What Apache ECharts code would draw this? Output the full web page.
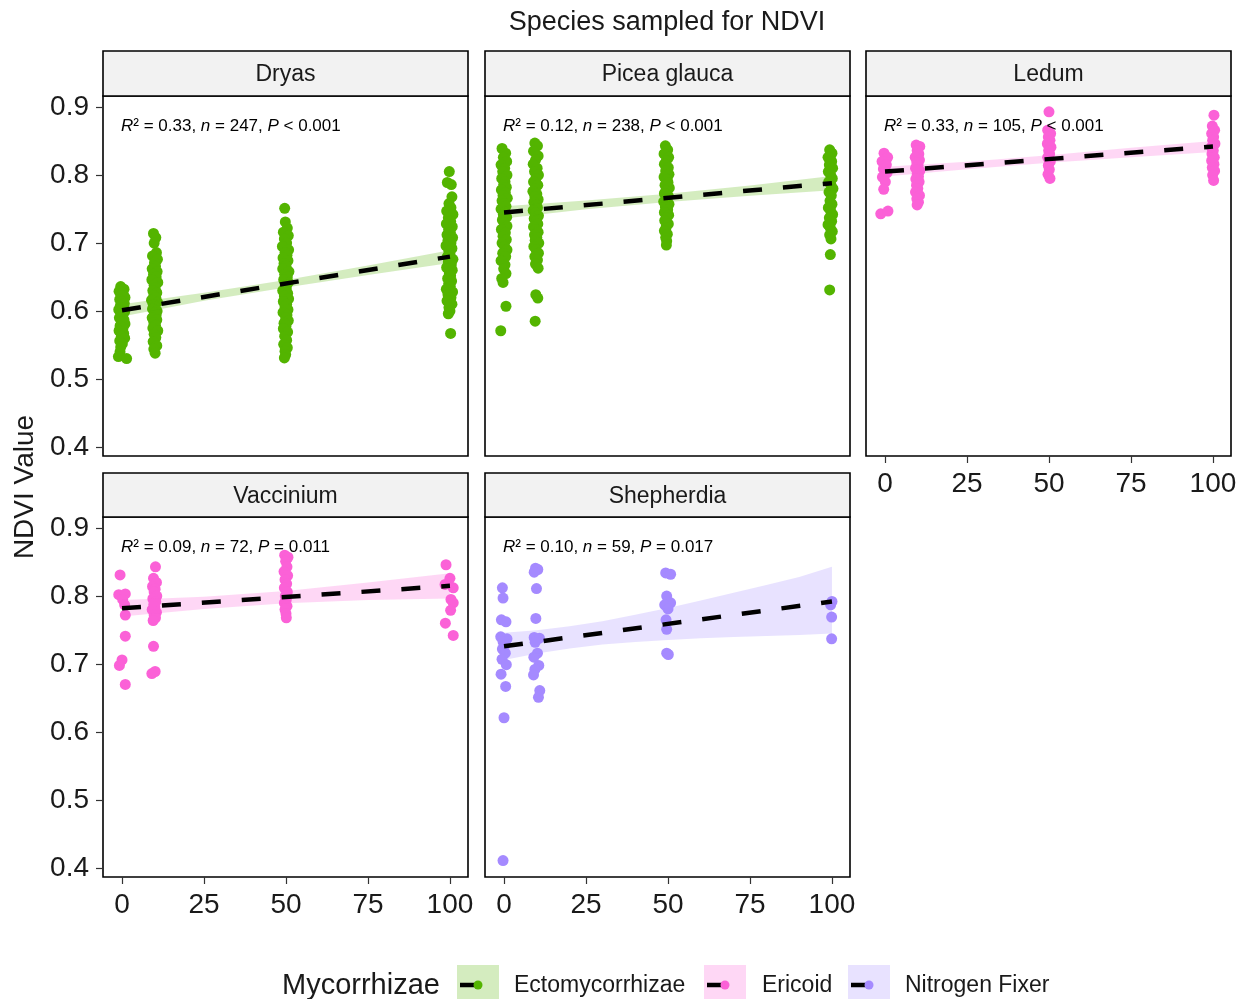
<!DOCTYPE html>
<html>
<head>
<meta charset="utf-8">
<script src="https://cdn.jsdelivr.net/npm/echarts@6/dist/echarts.min.js"></script>
<style>
  html, body { margin: 0; padding: 0; background: #fff; }
  #chart { width: 1240px; height: 999px; }
</style>
</head>
<body>
<div id="chart"></div>
<script>
// ---- Data: NDVI by treatment (%) for each sampled species ----
const treatmentTicks = [0, 25, 50, 75, 100];
const ndviTicks = [0.4, 0.5, 0.6, 0.7, 0.8, 0.9];

const mycorrhizaeTypes = ['Ectomycorrhizae', 'Ericoid', 'Nitrogen Fixer'];

// Jittered observations [treatment, NDVI]
const dryasPts = [
  [-0.4,0.636],[0.6,0.632],[-0.9,0.629],[0.3,0.626],[-0.2,0.623],[0.9,0.62],[-0.7,0.617],[0.1,0.614],[0.7,0.611],[-0.5,0.608],
  [0.4,0.605],[-1.0,0.602],[0.8,0.599],[-0.3,0.596],[0.2,0.593],[-0.8,0.59],[0.6,0.587],[-0.1,0.584],[0.9,0.581],[-0.6,0.578],
  [0.3,0.575],[-0.9,0.571],[0.5,0.567],[-0.2,0.563],[0.8,0.56],[-0.7,0.556],[0.1,0.552],[-0.4,0.547],[-0.6,0.540],[-1.1,0.533],
  [1.4,0.530],
  [9.6,0.714],[10.3,0.708],[9.8,0.700],[10.5,0.686],[9.3,0.681],[10.8,0.676],[9.9,0.671],[10.2,0.666],[9.2,0.662],[10.7,0.658],
  [9.6,0.654],[10.4,0.65],[9.1,0.646],[10.9,0.642],[9.8,0.638],[10.1,0.634],[9.4,0.63],[10.6,0.627],[9.7,0.623],[10.3,0.62],
  [9.0,0.616],[10.8,0.613],[9.5,0.61],[10.0,0.606],[9.3,0.603],[10.7,0.6],[9.9,0.597],[10.4,0.594],[9.2,0.59],[10.6,0.587],
  [9.7,0.583],[10.2,0.579],[9.4,0.575],[10.9,0.571],[9.8,0.566],[10.3,0.561],[9.5,0.555],[10.6,0.549],[9.7,0.544],[10.1,0.538],
  [49.6,0.751],[49.8,0.731],[50.4,0.722],[49.2,0.716],[50.7,0.711],[49.5,0.706],[50.2,0.70],[48.9,0.695],[50.8,0.69],[49.7,0.686],
  [50.3,0.682],[49.1,0.678],[50.6,0.674],[49.4,0.67],[50.0,0.666],[49.0,0.662],[50.9,0.658],[49.6,0.654],[50.4,0.65],[49.3,0.646],
  [50.7,0.642],[49.8,0.638],[50.1,0.634],[49.0,0.63],[50.5,0.626],[49.5,0.622],[50.8,0.618],[49.2,0.614],[50.2,0.61],[49.7,0.606],
  [50.6,0.602],[49.1,0.598],[50.3,0.594],[49.9,0.59],[50.7,0.586],[49.4,0.582],[50.0,0.578],[49.2,0.574],[50.5,0.569],[49.6,0.563],
  [50.2,0.557],[49.3,0.551],[50.4,0.546],[49.7,0.541],[49.9,0.536],[49.5,0.531],
  [99.8,0.805],[99.2,0.789],[100.4,0.786],[100.6,0.768],[99.7,0.758],[100.3,0.752],[99.0,0.747],[100.9,0.742],[99.5,0.737],[100.2,0.732],
  [98.9,0.728],[100.7,0.724],[99.6,0.72],[100.1,0.716],[99.1,0.712],[100.8,0.708],[99.4,0.704],[100.3,0.70],[98.8,0.696],[100.6,0.692],
  [99.7,0.688],[100.0,0.684],[99.2,0.68],[100.9,0.676],[99.5,0.672],[100.4,0.668],[99.0,0.664],[100.7,0.66],[99.8,0.656],[100.2,0.652],
  [99.3,0.648],[100.5,0.644],[99.6,0.64],[100.1,0.636],[98.9,0.632],[100.8,0.628],[99.4,0.624],[100.3,0.62],[99.1,0.615],[100.6,0.61],
  [99.7,0.605],[100.0,0.6],[99.5,0.596],[100.2,0.567]
];
const piceaPts = [
  [-0.6,0.839],[0.5,0.832],[-0.2,0.826],[0.8,0.82],[-0.9,0.815],[0.2,0.81],[-0.4,0.805],[0.9,0.80],[-0.7,0.795],[0.3,0.79],
  [-0.1,0.786],[0.7,0.782],[-0.8,0.778],[0.4,0.774],[-0.3,0.77],[1.0,0.766],[-0.6,0.762],[0.1,0.758],[0.6,0.754],[-0.9,0.75],
  [0.3,0.746],[-0.2,0.742],[0.8,0.738],[-0.5,0.734],[0.0,0.73],[0.9,0.725],[-0.8,0.72],[0.4,0.715],[-0.3,0.71],[0.7,0.705],
  [-0.6,0.70],[0.2,0.695],[0.9,0.69],[-0.4,0.685],[0.5,0.68],[-0.9,0.674],[0.3,0.668],[-0.1,0.662],[0.6,0.655],[-0.7,0.648],
  [-0.3,0.642],[0.6,0.607],[-1.0,0.571],
  [9.4,0.847],[10.2,0.843],[9.0,0.835],[10.4,0.828],[9.6,0.822],[8.9,0.816],[10.1,0.81],[9.3,0.805],[10.5,0.80],[9.7,0.795],
  [9.0,0.79],[10.3,0.785],[9.5,0.78],[8.8,0.776],[10.0,0.772],[9.4,0.768],[10.4,0.764],[9.1,0.76],[9.8,0.756],[10.2,0.752],
  [8.9,0.748],[9.6,0.744],[10.5,0.74],[9.2,0.736],[9.9,0.732],[10.3,0.728],[9.0,0.724],[9.7,0.72],[10.4,0.716],[9.3,0.712],
  [10.0,0.708],[9.5,0.704],[10.6,0.70],[9.1,0.695],[9.8,0.69],[10.5,0.685],[9.4,0.68],[10.2,0.675],[9.6,0.669],[10.4,0.663],
  [9.7,0.624],[10.3,0.619],[9.5,0.585],
  [49.2,0.843],[49.9,0.837],[48.8,0.831],[50.2,0.826],[49.5,0.821],[48.9,0.816],[50.1,0.811],[49.3,0.806],[50.3,0.801],[48.8,0.797],
  [49.7,0.793],[50.0,0.789],[49.1,0.785],[50.4,0.781],[49.4,0.777],[48.9,0.773],[50.1,0.769],[49.6,0.765],[48.7,0.761],[50.3,0.757],
  [49.2,0.753],[49.9,0.749],[48.9,0.745],[50.2,0.741],[49.5,0.737],[49.0,0.733],[50.1,0.728],[49.4,0.723],[48.9,0.718],[49.8,0.713],
  [49.3,0.708],[49.6,0.703],[49.5,0.697],
  [99.3,0.837],[100.0,0.832],[98.8,0.826],[99.9,0.82],[99.2,0.815],[100.2,0.81],[98.9,0.805],[99.6,0.80],[100.1,0.795],[99.0,0.79],
  [99.7,0.785],[100.3,0.78],[99.1,0.775],[99.8,0.77],[99.4,0.762],[100.0,0.757],[98.9,0.752],[99.6,0.747],[100.2,0.742],[99.2,0.737],
  [99.9,0.732],[98.8,0.727],[99.5,0.722],[100.1,0.717],[99.3,0.712],[99.7,0.706],[99.5,0.683],[99.3,0.631]
];
const ledumPts = [
  [-0.3,0.832],[0.8,0.826],[-0.9,0.82],[0.4,0.815],[-0.5,0.809],[0.6,0.803],[-0.8,0.797],[0.1,0.79],[-0.4,0.779],[-1.3,0.743],
  [0.9,0.747],
  [9.5,0.844],[10.6,0.842],[9.8,0.836],[10.3,0.831],[9.2,0.826],[10.5,0.822],[9.7,0.818],[10.1,0.814],[9.3,0.81],[10.6,0.806],
  [9.8,0.802],[10.2,0.798],[9.4,0.794],[10.4,0.79],[9.6,0.785],[10.0,0.78],[9.3,0.775],[10.5,0.77],[9.7,0.765],[10.2,0.76],
  [9.8,0.756],
  [50.0,0.893],[49.6,0.866],[50.5,0.861],[49.8,0.856],[50.3,0.851],[49.5,0.846],[50.6,0.841],[49.9,0.836],[50.2,0.831],[49.6,0.826],
  [50.4,0.82],[49.8,0.814],[50.1,0.808],[49.7,0.801],[50.3,0.795],
  [100.3,0.888],[99.8,0.872],[100.5,0.866],[99.6,0.861],[100.2,0.856],[99.9,0.851],[100.6,0.846],[99.5,0.841],[100.1,0.836],[99.7,0.831],
  [100.4,0.826],[99.6,0.821],[100.3,0.816],[99.8,0.811],[100.5,0.806],[99.9,0.80],[100.2,0.792]
];
const vacciniumPts = [
  [-0.6,0.831],[-1.0,0.802],[1.0,0.803],[0.2,0.795],[0.8,0.787],[1.0,0.772],[1.0,0.741],[0.0,0.706],[-0.8,0.698],[1.0,0.670],
  [10.2,0.843],[9.6,0.826],[10.5,0.82],[9.3,0.814],[10.1,0.81],[9.8,0.806],[10.6,0.80],[9.4,0.796],[10.3,0.792],[9.7,0.788],
  [10.0,0.784],[9.2,0.78],[10.5,0.776],[9.8,0.772],[10.2,0.768],[9.5,0.764],[9.6,0.726],[9.1,0.686],[10.1,0.689],
  [49.6,0.860],[50.6,0.857],[49.9,0.851],[50.3,0.843],[49.4,0.836],[50.5,0.83],[49.7,0.824],[50.2,0.818],[49.5,0.812],[50.4,0.806],
  [49.8,0.80],[50.1,0.795],[49.5,0.79],[50.3,0.785],[49.7,0.78],[50.0,0.774],[50.1,0.768],
  [98.8,0.846],[100.0,0.826],[98.5,0.817],[101.0,0.812],[100.3,0.795],[101.0,0.79],[100.2,0.779],[98.6,0.760],[101.0,0.742]
];
const shepherdiaPts = [
  [-0.5,0.812],[-0.3,0.797],[-0.8,0.765],[0.6,0.762],[-1.0,0.740],[0.9,0.737],[-0.3,0.733],[0.3,0.728],[-0.5,0.722],[0.4,0.716],
  [-0.6,0.707],[0.7,0.699],[-0.9,0.685],[0.5,0.667],[0.0,0.621],[-0.3,0.411],
  [9.6,0.841],[10.3,0.839],[9.2,0.835],[9.9,0.811],[9.7,0.767],[9.2,0.739],[10.8,0.738],[9.5,0.732],[10.2,0.716],[9.1,0.71],
  [10.6,0.698],[9.4,0.692],[9.0,0.684],[10.9,0.661],[10.5,0.651],
  [49.3,0.834],[50.8,0.832],[49.6,0.800],[50.8,0.790],[49.0,0.787],[50.0,0.781],[49.4,0.765],[49.6,0.751],[49.6,0.716],[50.1,0.714],
  [100.0,0.792],[99.6,0.787],[99.9,0.769],[99.9,0.737]
];

// Fitted linear trend: NDVI at treatment 0 and 100
const dryasFit = [0.601, 0.680];
const piceaFit = [0.745, 0.788];
const ledumFit = [0.805, 0.842];
const vacciniumFit = [0.782, 0.815];
const shepherdiaFit = [0.726, 0.792];

// 95% confidence band rows: [treatment, lower, upper]
const dryasBand = [[0,0.592,0.610],[25,0.615,0.627],[50,0.6345,0.6455],[75,0.653,0.667],[100,0.6705,0.6895]];
const piceaBand = [[0,0.736,0.754],[25,0.7495,0.7625],[50,0.7605,0.7725],[75,0.7695,0.7845],[100,0.7775,0.7985]];
const ledumBand = [[0,0.798,0.812],[25,0.8085,0.8195],[50,0.818,0.829],[75,0.826,0.840],[100,0.834,0.850]];
const vacciniumBand = [[0,0.770,0.794],[25,0.781,0.799],[50,0.7895,0.8075],[75,0.794,0.820],[100,0.7965,0.8335]];
const shepherdiaBand = [
  [0,0.706,0.746],[10,0.7156,0.7496],[20,0.7227,0.7557],[30,0.7288,0.7628],[40,0.7324,0.7724],[50,0.7355,0.7825],
  [60,0.7378,0.7934],[70,0.7397,0.8047],[80,0.7413,0.8163],[90,0.7428,0.828],[100,0.745,0.843]
];

// Model summaries: [R², n, P comparator, P]
const dryasStat = ['0.33', '247', '<', '0.001'];
const piceaStat = ['0.12', '238', '<', '0.001'];
const ledumStat = ['0.33', '105', '<', '0.001'];
const vacciniumStat = ['0.09', '72', '=', '0.011'];
const shepherdiaStat = ['0.10', '59', '=', '0.017'];

// ---- Styling ----
const FONT = '"Liberation Sans", Arial, Helvetica, sans-serif';
const TEXT = '#1a1a1a';
const palette = {
  'Ectomycorrhizae': { color: '#53B400', fill: 'rgba(83,180,0,0.25)' },
  'Ericoid':         { color: '#FB61D7', fill: 'rgba(251,97,215,0.25)' },
  'Nitrogen Fixer':  { color: '#A58AFF', fill: 'rgba(165,138,255,0.25)' }
};

const PW = 365, PH = 360;
const panels = [
  { name: 'Dryas',        pts: dryasPts,      fit: dryasFit,      band: dryasBand,      stat: dryasStat,      type: 'Ectomycorrhizae', left: 103, top: 96,  xLab: false, yLab: true },
  { name: 'Picea glauca', pts: piceaPts,      fit: piceaFit,      band: piceaBand,      stat: piceaStat,      type: 'Ectomycorrhizae', left: 485, top: 96,  xLab: false, yLab: false },
  { name: 'Ledum',        pts: ledumPts,      fit: ledumFit,      band: ledumBand,      stat: ledumStat,      type: 'Ericoid',         left: 866, top: 96,  xLab: true,  yLab: false },
  { name: 'Vaccinium',    pts: vacciniumPts,  fit: vacciniumFit,  band: vacciniumBand,  stat: vacciniumStat,  type: 'Ericoid',         left: 103, top: 517, xLab: true,  yLab: true },
  { name: 'Shepherdia',   pts: shepherdiaPts, fit: shepherdiaFit, band: shepherdiaBand, stat: shepherdiaStat, type: 'Nitrogen Fixer',  left: 485, top: 517, xLab: true,  yLab: false }
];

function bandRenderer(rows, fill) {
  return function (params, api) {
    if (params.dataIndex !== 0) return null;
    const pts = [];
    rows.forEach(function (r) { pts.push(api.coord([r[0], r[2]])); });
    rows.slice().reverse().forEach(function (r) { pts.push(api.coord([r[0], r[1]])); });
    return { type: 'polygon', shape: { points: pts }, style: { fill: fill } };
  };
}

const grids = [], xAxes = [], yAxes = [], series = [], graphics = [];
const tickStyle = { color: '#333', width: 1.2 };

panels.forEach(function (p, i) {
  const c = palette[p.type];
  grids.push({
    left: p.left, top: p.top, width: PW, height: PH,
    show: true, backgroundColor: '#fff', borderColor: '#000', borderWidth: 1.6,
    containLabel: false, outerBoundsMode: 'none'
  });
  xAxes.push({
    type: 'value', gridIndex: i, min: -5.8, max: 105.5, position: 'bottom',
    axisLine: { show: false, onZero: false }, splitLine: { show: false },
    axisTick: { show: p.xLab, inside: false, length: 7, lineStyle: tickStyle, customValues: treatmentTicks },
    axisLabel: { show: p.xLab, customValues: treatmentTicks, margin: 14, fontSize: 28, fontFamily: FONT, color: TEXT }
  });
  yAxes.push({
    type: 'value', gridIndex: i, min: 0.3868, max: 0.9162, position: 'left',
    axisLine: { show: false, onZero: false }, splitLine: { show: false },
    axisTick: { show: p.yLab, inside: false, length: 7, lineStyle: tickStyle, customValues: ndviTicks },
    axisLabel: {
      show: p.yLab, customValues: ndviTicks, margin: 14, fontSize: 28, fontFamily: FONT, color: TEXT,
      formatter: function (v) { return v.toFixed(1); }
    }
  });
  series.push({
    type: 'scatter', xAxisIndex: i, yAxisIndex: i, data: p.pts, symbol: 'circle', symbolSize: 11,
    itemStyle: { color: c.color, opacity: 1 }, z: 2, silent: true
  });
  series.push({
    type: 'custom', xAxisIndex: i, yAxisIndex: i, data: p.band, encode: { x: 0, y: [1, 2] },
    renderItem: bandRenderer(p.band, c.fill), z: 3, silent: true
  });
  series.push({
    type: 'line', xAxisIndex: i, yAxisIndex: i, data: [[0, p.fit[0]], [100, p.fit[1]]],
    symbol: 'none', lineStyle: { color: '#000', width: 4.5, type: [19, 21], cap: 'butt' }, z: 4, silent: true
  });

  // facet strip
  const sh = p.top < 300 ? 45 : 44;
  graphics.push({
    type: 'rect', shape: { x: p.left, y: p.top - sh, width: PW, height: sh },
    style: { fill: '#F2F2F2', stroke: '#000', lineWidth: 1.6 }, z: 10
  });
  graphics.push({
    type: 'text', x: p.left + PW / 2, y: p.top - sh / 2 + 1.5,
    style: { text: p.name, fontSize: 23, fontFamily: FONT, fill: TEXT, align: 'center', verticalAlign: 'middle' }, z: 11
  });
  // model summary
  const s = p.stat;
  graphics.push({
    type: 'text', x: p.left + 18, y: p.top + 30,
    style: {
      text: '{i|R}{t|\u00B2 = ' + s[0] + ', }{i|n}{t| = ' + s[1] + ', }{i|P}{t| ' + s[2] + ' ' + s[3] + '}',
      verticalAlign: 'middle', align: 'left',
      rich: {
        i: { fontSize: 17, fontFamily: FONT, fontStyle: 'italic', fill: '#000' },
        t: { fontSize: 17, fontFamily: FONT, fill: '#000' }
      }
    }, z: 11
  });
});

// titles
graphics.push({
  type: 'text', x: 667, y: 23,
  style: { text: 'Species sampled for NDVI', fontSize: 27, fontFamily: FONT, fill: TEXT, align: 'center', verticalAlign: 'middle' }
});
graphics.push({
  type: 'text', x: 25, y: 487, rotation: Math.PI / 2,
  style: { text: 'NDVI Value', fontSize: 28, fontFamily: FONT, fill: TEXT, align: 'center', verticalAlign: 'middle' }
});

// legend
graphics.push({
  type: 'text', x: 282, y: 986,
  style: { text: 'Mycorrhizae', fontSize: 29, fontFamily: FONT, fill: TEXT, align: 'left', verticalAlign: 'middle' }
});
const legendPos = [[457, 514], [704, 762], [848, 905]];
mycorrhizaeTypes.forEach(function (t, k) {
  const bx = legendPos[k][0], c = palette[t];
  graphics.push({ type: 'rect', shape: { x: bx, y: 965, width: 42, height: 40 }, style: { fill: c.fill } });
  graphics.push({ type: 'line', shape: { x1: bx + 3, y1: 985, x2: bx + 21, y2: 985 }, style: { stroke: '#000', lineWidth: 4.5 } });
  graphics.push({ type: 'circle', shape: { cx: bx + 21, cy: 985, r: 4.5 }, style: { fill: c.color } });
  graphics.push({
    type: 'text', x: legendPos[k][1], y: 986,
    style: { text: t, fontSize: 23, fontFamily: FONT, fill: TEXT, align: 'left', verticalAlign: 'middle' }
  });
});

const chart = echarts.init(document.getElementById('chart'), null, { renderer: 'canvas' });
chart.setOption({
  backgroundColor: '#fff',
  animation: false,
  grid: grids,
  xAxis: xAxes,
  yAxis: yAxes,
  series: series,
  graphic: graphics
});
</script>
</body>
</html>
